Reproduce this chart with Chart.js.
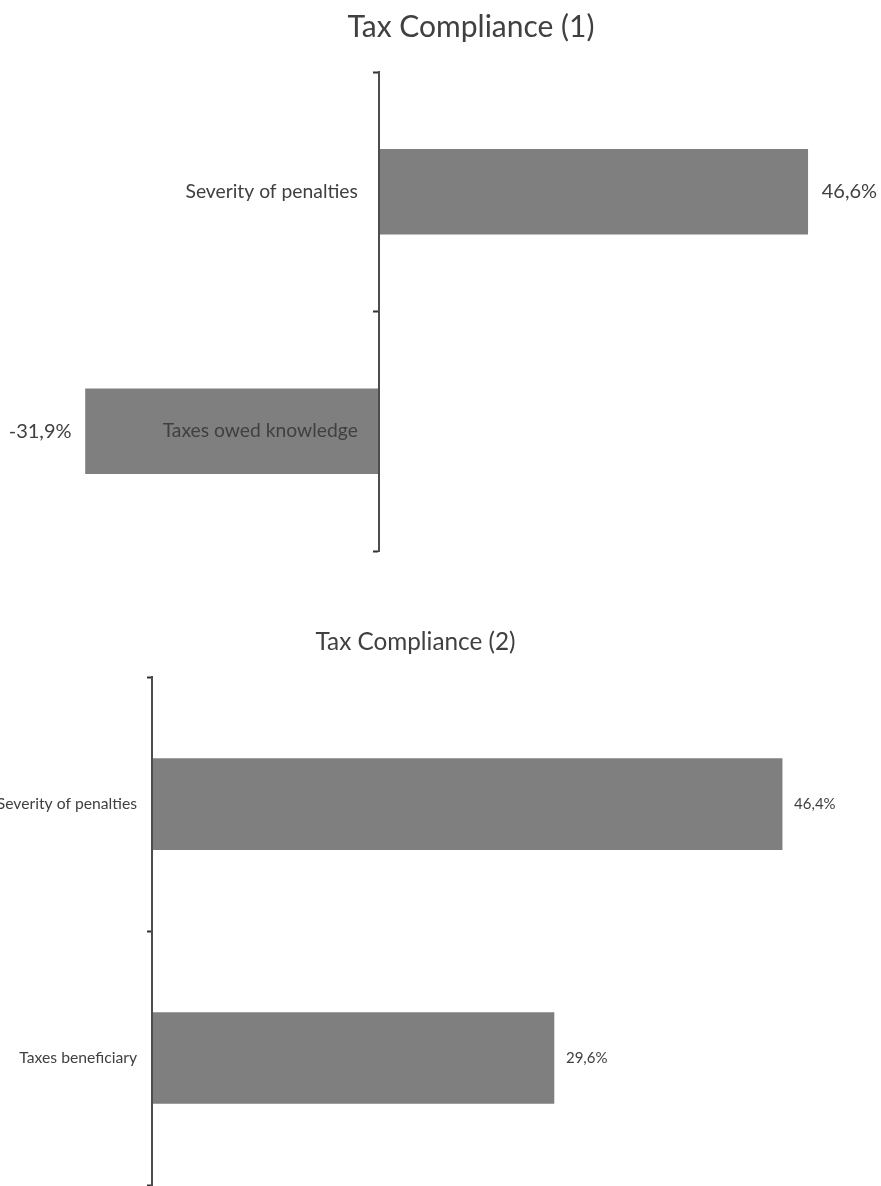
<!DOCTYPE html>
<html>
<head>
<meta charset="utf-8">
<script src="https://cdn.jsdelivr.net/npm/chart.js@4/dist/chart.umd.min.js"></script>
<style>
  html, body { margin: 0; padding: 0; background: #ffffff; overflow: hidden; width: 881px; height: 1186px; }
  #wrap1 { position: absolute; left: 0; top: 0; width: 960px; height: 590px; }
  #wrap2 { position: absolute; left: 0; top: 590px; width: 881px; height: 596px; }
</style>
</head>
<body>
<div id="wrap1"><canvas id="c1"></canvas></div>
<div id="wrap2"><canvas id="c2"></canvas></div>
<script>
const chart1Title = 'Tax Compliance (1)';
const chart1Categories = ['Severity of penalties', 'Taxes owed knowledge'];
const chart1Values = [46.6, -31.9];

const chart2Title = 'Tax Compliance (2)';
const chart2Categories = ['Severity of penalties', 'Taxes beneficiary'];
const chart2Values = [46.4, 29.6];

const FONT = 'Lato, "Open Sans", sans-serif';
const TEXT = '#404040';
const BAR = '#7f7f7f';

const valueLabels = {
  id: 'valueLabels',
  afterDatasetsDraw(chart, args, opts) {
    const ctx = chart.ctx;
    const meta = chart.getDatasetMeta(0);
    const data = chart.data.datasets[0].data;
    ctx.save();
    ctx.font = opts.size + 'px ' + FONT;
    ctx.fillStyle = TEXT;
    ctx.textBaseline = 'middle';
    meta.data.forEach((bar, i) => {
      const v = data[i];
      const txt = v.toFixed(1).replace('.', ',') + '%';
      if (v >= 0) {
        ctx.textAlign = 'left';
        ctx.fillText(txt, bar.x + opts.gap, bar.y);
      } else {
        ctx.textAlign = 'right';
        ctx.fillText(txt, bar.x - opts.gap, bar.y);
      }
    });
    ctx.restore();
  }
};

function fixWidth(w) {
  return (s) => { s.width = w; s.paddingTop = 0; s.paddingBottom = 0; };
}

function makeChart(id, title, cats, vals, cfg) {
  const scales = {
    x: { display: false, min: cfg.min, max: cfg.max },
    y: {
      position: cfg.yPosition,
      afterFit: fixWidth(cfg.yWidth),
      grid: {
        display: true,
        drawOnChartArea: false,
        drawTicks: true,
        tickLength: 5,
        tickColor: '#333333',
        tickWidth: 2,
        offset: true
      },
      border: { display: true, color: '#4d4d4d', width: 2, z: 1 },
      ticks: {
        display: !cfg.separateLabels,
        color: TEXT,
        padding: cfg.tickPadding,
        z: 1,
        font: { family: FONT, size: cfg.labelSize }
      }
    }
  };
  if (cfg.separateLabels) {
    // label-only category axis, placed just left of the zero line
    scales.yLabels = {
      type: 'category',
      axis: 'y',
      offset: true,
      position: { x: cfg.labelAt },
      afterFit: fixWidth(0),
      grid: { display: false, offset: true },
      border: { display: false },
      ticks: {
        color: TEXT,
        z: 2,
        font: { family: FONT, size: cfg.labelSize }
      }
    };
  }
  return new Chart(document.getElementById(id), {
    type: 'bar',
    data: {
      labels: cats,
      datasets: [{
        data: vals,
        backgroundColor: BAR,
        borderWidth: 0,
        barThickness: cfg.barThickness
      }]
    },
    options: {
      indexAxis: 'y',
      responsive: true,
      maintainAspectRatio: false,
      animation: false,
      layout: { padding: cfg.padding },
      plugins: {
        legend: { display: false },
        tooltip: { enabled: false },
        title: {
          display: true,
          text: title,
          color: TEXT,
          font: { family: FONT, size: cfg.titleSize, weight: 'normal' },
          padding: cfg.titlePadding
        },
        valueLabels: { size: cfg.valueSize, gap: cfg.valueGap }
      },
      scales: scales
    },
    plugins: [valueLabels]
  });
}

makeChart('c1', chart1Title, chart1Categories, chart1Values, {
  barThickness: 85,
  padding: { left: 11, right: 29, top: 0, bottom: 39 },
  titleSize: 30,
  titlePadding: { top: 9, bottom: 27 },
  valueSize: 20,
  valueGap: 14,
  min: -40,
  max: 60,
  yPosition: { x: 0 },
  yWidth: 0,
  separateLabels: true,
  labelAt: -2.3,
  tickPadding: 0,
  labelSize: 19.3
});

makeChart('c2', chart2Title, chart2Categories, chart2Values, {
  barThickness: 91,
  padding: { left: 0, right: 50, top: 0, bottom: 1 },
  titleSize: 24.3,
  titlePadding: { top: 38, bottom: 20 },
  valueSize: 15,
  valueGap: 12,
  min: 0,
  max: 50,
  yPosition: 'left',
  yWidth: 152,
  separateLabels: false,
  tickPadding: 10,
  labelSize: 15.7
});
</script>
</body>
</html>
